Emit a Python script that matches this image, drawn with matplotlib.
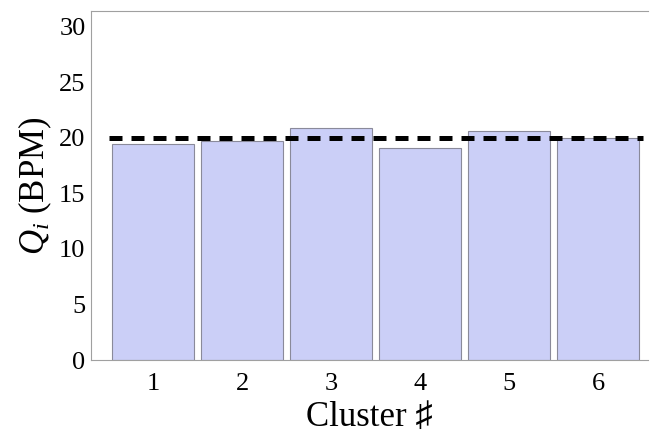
import matplotlib.pyplot as plt
import numpy as np

plt.rcParams['font.family'] = ['Liberation Serif', 'DejaVu Sans']
plt.rcParams['mathtext.fontset'] = 'custom'
plt.rcParams['mathtext.rm'] = 'Liberation Serif'
plt.rcParams['mathtext.it'] = 'Liberation Serif:italic'

# Flow per cluster
clusters = [1, 2, 3, 4, 5, 6]
flow = [19.4, 19.7, 20.9, 19.1, 20.6, 20.0]
target = 20

fig = plt.figure(figsize=(6.52, 4.36), dpi=100)
ax = fig.add_axes([0.1396, 0.1743, 0.8543, 0.8005])

ax.bar(clusters, flow, width=0.92, color='#cbcff7', edgecolor='#8a8a9a', linewidth=0.8)
ax.plot([0.5, 6.5], [target, target], color='black', linewidth=3.6,
        linestyle=(0, (2.6, 1.8)))

ax.set_xlim(0.303, 6.56)
ax.set_ylim(0, 31.4)
ax.set_xticks(clusters)
ax.set_yticks([0, 5, 10, 15, 20, 25, 30])
ax.tick_params(length=0, labelsize=19)
ax.tick_params(axis='x', pad=9)
ax.tick_params(axis='y', pad=4)

for side in ['left', 'bottom', 'top']:
    ax.spines[side].set_color('#a0a0a0')
    ax.spines[side].set_linewidth(0.8)
ax.spines['right'].set_visible(False)

ax.set_xlabel('Cluster \u266f', fontsize=25, labelpad=5,
              family=['Liberation Serif', 'Noto Sans CJK JP', 'DejaVu Sans'])
ax.set_ylabel('$Q_i$ (BPM)', fontsize=25, labelpad=4)

plt.savefig('out.png', dpi=100)
